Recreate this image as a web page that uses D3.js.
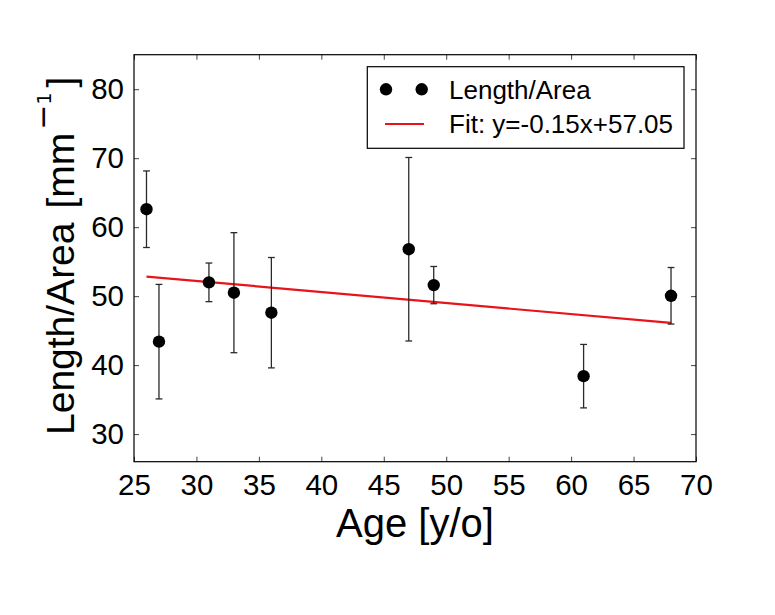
<!DOCTYPE html>
<html>
<head>
<meta charset="utf-8">
<script src="https://cdn.jsdelivr.net/npm/d3@7"></script>
<style>
  body { margin: 0; background: #fff; }
  svg { display: block; font-family: "Liberation Sans", Arial, sans-serif; }
</style>
</head>
<body>
<svg id="chart" width="775" height="615"></svg>
<script>
// ---- data ----
const ages   = [26, 27, 31, 33, 36, 47, 49, 61, 68];
const values = [62.6, 43.4, 52.0, 50.5, 47.6, 56.8, 51.6, 38.4, 50.05];
const errors = [5.55, 8.3, 2.8, 8.7, 8.0, 13.3, 2.7, 4.6, 4.1];
const fitSlope = -0.16;
const fitIntercept = 57.0;
const fitRange = [26, 68];
const xTicks = [25, 30, 35, 40, 45, 50, 55, 60, 65, 70];
const yTicks = [30, 40, 50, 60, 70, 80];
const xDomain = [25, 70];
const yDomain = [26, 85];
const seriesLabel = "Length/Area";
const fitLabel = "Fit: y=-0.15x+57.05";

// ---- layout ----
const svg = d3.select("#chart");
const L = 134, R = 696, T = 54.7, B = 461.7;
const x = d3.scaleLinear().domain(xDomain).range([L, R]);
const y = d3.scaleLinear().domain(yDomain).range([B, T]);
const tickLen = 5;
const tickFont = 29.5;

const g = svg.append("g");

// ticks (inward, all four sides)
const axB = d3.axisBottom(x).tickValues(xTicks).tickSizeInner(-tickLen).tickSizeOuter(0).tickPadding(12).tickFormat(d3.format("d"));
const axT = d3.axisTop(x).tickValues(xTicks).tickSizeInner(-tickLen).tickSizeOuter(0).tickFormat("");
const axLft = d3.axisLeft(y).tickValues(yTicks).tickSizeInner(-tickLen).tickSizeOuter(0).tickPadding(10).tickFormat(d3.format("d"));
const axRt = d3.axisRight(y).tickValues(yTicks).tickSizeInner(-tickLen).tickSizeOuter(0).tickFormat("");

function styleAxis(sel) {
  sel.select(".domain").remove();
  sel.selectAll(".tick line").attr("stroke", "#444").attr("stroke-width", 1);
  sel.selectAll(".tick text").attr("fill", "#000").style("font-size", tickFont + "px");
}
g.append("g").attr("transform", `translate(0,${B})`).call(axB).call(styleAxis);
g.append("g").attr("transform", `translate(0,${T})`).call(axT).call(styleAxis);
g.append("g").attr("transform", `translate(${L},0)`).call(axLft).call(styleAxis);
g.append("g").attr("transform", `translate(${R},0)`).call(axRt).call(styleAxis);
g.selectAll(".tick text").attr("font-family", null);

// fit line
const fitLine = d3.line().x(d => x(d)).y(d => y(fitSlope * d + fitIntercept));
g.append("path").datum(fitRange).attr("d", fitLine)
  .attr("fill", "none").attr("stroke", "#e8141a").attr("stroke-width", 2.2);

// error bars
const pts = ages.map((a, i) => ({a, v: values[i], e: errors[i]}));
const eb = g.append("g").attr("stroke", "#2a2a2a").attr("stroke-width", 1.3);
eb.selectAll("line.v").data(pts).join("line")
  .attr("x1", d => x(d.a)).attr("x2", d => x(d.a))
  .attr("y1", d => y(d.v - d.e)).attr("y2", d => y(d.v + d.e));
eb.selectAll("line.c1").data(pts).join("line")
  .attr("x1", d => x(d.a) - 3.4).attr("x2", d => x(d.a) + 3.4)
  .attr("y1", d => y(d.v + d.e)).attr("y2", d => y(d.v + d.e));
eb.selectAll("line.c2").data(pts).join("line")
  .attr("x1", d => x(d.a) - 3.4).attr("x2", d => x(d.a) + 3.4)
  .attr("y1", d => y(d.v - d.e)).attr("y2", d => y(d.v - d.e));

// points
g.append("g").selectAll("circle").data(pts).join("circle")
  .attr("cx", d => x(d.a)).attr("cy", d => y(d.v)).attr("r", 6.2).attr("fill", "#000");

// frame
g.append("rect").attr("x", L).attr("y", T).attr("width", R - L).attr("height", B - T)
  .attr("fill", "none").attr("stroke", "#000").attr("stroke-width", 1.2);

// legend
const lg = g.append("g");
lg.append("rect").attr("x", 367.3).attr("y", 66.7).attr("width", 684 - 367.3).attr("height", 148.3 - 66.7)
  .attr("fill", "#fff").attr("stroke", "#000").attr("stroke-width", 1.2);
[386, 421.7].forEach(cx => lg.append("circle").attr("cx", cx).attr("cy", 89.3).attr("r", 6.2).attr("fill", "#000"));
lg.append("line").attr("x1", 385).attr("x2", 424).attr("y1", 124).attr("y2", 124)
  .attr("stroke", "#e8141a").attr("stroke-width", 2.2);
lg.append("text").attr("x", 449).attr("y", 98.5).style("font-size", "26px").text(seriesLabel);
lg.append("text").attr("x", 449).attr("y", 133).style("font-size", "26px").text(fitLabel);

// axis labels
svg.append("text").attr("x", (L + R) / 2).attr("y", 537).attr("text-anchor", "middle")
  .style("font-size", "40px").text("Age [y/o]");
const yl = svg.append("text").attr("transform", "translate(73.5,435) rotate(-90)")
  .attr("text-anchor", "start").style("font-size", "39px");
yl.append("tspan").text("Length/Area");
yl.append("tspan").attr("dx", 14).text("[mm");
yl.append("tspan").attr("dx", 3).attr("dy", -21).style("font-size", "30px")
  .style("font-family", "'DejaVu Sans'").text("\u2212");
yl.append("tspan").attr("dy", -2).style("font-size", "19px").style("font-family", "'DejaVu Sans'").text("1");
yl.append("tspan").attr("dx", 5).attr("dy", 23).text("]");
</script>
</body>
</html>
